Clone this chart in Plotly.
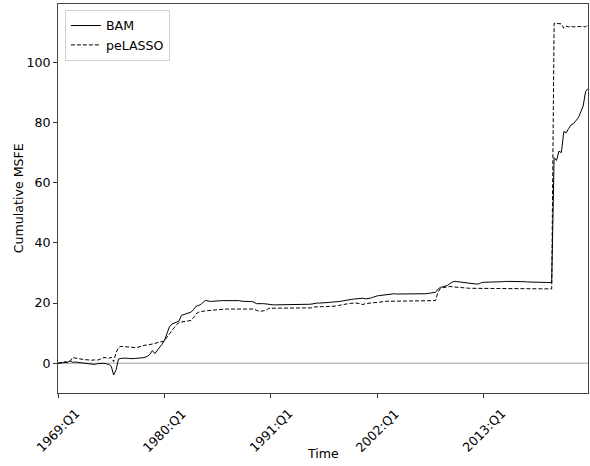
import plotly.graph_objects as go

# Quarters 1969:Q1 .. 2023:Q4
start_year = 1969
n_quarters = 220
quarters = [f"{start_year + i // 4}:Q{i % 4 + 1}" for i in range(n_quarters)]
x_idx = list(range(n_quarters))

tick_labels = ["1969:Q1", "1980:Q1", "1991:Q1", "2002:Q1", "2013:Q1"]
tick_pos = [quarters.index(t) for t in tick_labels]
y_ticks = [0, 20, 40, 60, 80, 100]

bam = [
    0.0, 0.1, 0.2, 0.4, 0.3, 0.8, 0.3, 0.4, 0.3, 0.2,
    0.1, 0.0, -0.1, -0.2, -0.3, -0.4, -0.2, -0.1, 0.0, 0.0,
    -0.2, -0.4, -1.0, -3.9, -2.2, 1.4, 1.6, 1.7, 1.7, 1.6,
    1.5, 1.5, 1.6, 1.6, 1.7, 1.8, 2.0, 2.3, 3.0, 4.2,
    3.2, 4.2, 5.0, 6.3, 7.6, 9.5, 12.0, 13.0, 13.3, 13.6,
    14.0, 15.9, 16.2, 16.4, 16.7, 17.0, 17.8, 18.9, 19.2, 19.5,
    20.3, 20.9, 20.7, 20.5, 20.6, 20.7, 20.8, 20.8, 20.8, 20.8,
    20.8, 20.9, 20.9, 20.8, 20.8, 20.8, 20.6, 20.5, 20.5, 20.5,
    20.5, 20.3, 19.8, 19.7, 19.8, 19.8, 19.7, 19.4, 19.4, 19.4,
    19.4, 19.4, 19.5, 19.5, 19.5, 19.5, 19.5, 19.5, 19.5, 19.6,
    19.6, 19.6, 19.6, 19.6, 19.6, 19.7, 19.9, 20.0, 20.0, 20.0,
    20.0, 20.1, 20.2, 20.3, 20.3, 20.4, 20.5, 20.6, 20.8, 20.9,
    21.1, 21.2, 21.3, 21.4, 21.5, 21.5, 21.6, 21.4, 21.4, 21.6,
    21.9, 22.2, 22.4, 22.5, 22.6, 22.8, 22.9, 23.0, 23.1, 23.1,
    23.0, 23.0, 22.9, 22.9, 22.9, 22.9, 23.0, 23.0, 23.0, 23.1,
    23.1, 23.1, 23.1, 23.2, 23.3, 23.5, 23.6, 24.6, 25.2, 25.4,
    25.6, 25.9, 26.5, 27.0, 27.2, 27.1, 27.0, 26.9, 26.7, 26.6,
    26.5, 26.4, 26.4, 26.3, 26.4, 26.8, 26.9, 26.9, 26.9, 27.0,
    27.0, 27.0, 27.1, 27.1, 27.1, 27.2, 27.2, 27.3, 27.3, 27.3,
    27.2, 27.2, 27.1, 27.1, 27.0, 27.0, 27.0, 27.0, 26.9, 26.9,
    26.9, 26.9, 26.9, 26.9, 26.8, 68.3, 67.4, 70.5, 70.0, 77.0,
    76.6, 78.0, 79.2, 79.6, 80.5, 81.6, 83.5, 85.5, 90.3, 91.3,
]

pelasso = [
    0.0, 0.2, 0.3, 0.5, 0.3, 0.6, 1.9, 1.7, 1.5, 1.4,
    1.3, 1.2, 1.1, 1.0, 1.0, 1.1, 1.0, 1.2, 1.6, 1.9,
    1.8, 1.6, 2.0, 0.5, 3.5, 5.2, 5.6, 5.5, 5.4, 5.3,
    5.3, 5.2, 5.2, 5.3, 5.5, 5.9, 6.0, 6.0, 6.2, 6.5,
    6.5, 6.8, 7.0, 7.2, 7.4, 8.6, 9.8, 10.8, 11.8, 12.8,
    13.5, 13.7, 13.8, 13.9, 14.0, 14.2, 15.2, 16.4, 16.9, 17.2,
    17.3, 17.4, 17.5, 17.6, 17.7, 17.8, 17.8, 17.9, 17.9, 18.0,
    18.0, 18.0, 18.1, 18.1, 18.1, 18.1, 18.1, 18.1, 18.1, 18.1,
    18.1, 18.0, 17.6, 17.3, 17.3, 17.4, 17.6, 18.2, 18.3, 18.3,
    18.3, 18.3, 18.3, 18.3, 18.3, 18.4, 18.4, 18.4, 18.4, 18.4,
    18.4, 18.4, 18.4, 18.4, 18.4, 18.4, 18.7, 18.8, 18.8, 18.8,
    18.8, 18.8, 18.8, 18.8, 18.8, 19.0, 19.2, 19.4, 19.6, 19.8,
    19.8, 19.9, 20.0, 20.0, 19.9, 19.6, 19.5, 19.8, 19.9, 20.0,
    20.1, 20.3, 20.4, 20.5, 20.6, 20.6, 20.6, 20.6, 20.6, 20.6,
    20.6, 20.6, 20.6, 20.6, 20.6, 20.6, 20.6, 20.7, 20.7, 20.7,
    20.7, 20.7, 20.7, 20.7, 20.8, 20.8, 20.8, 23.6, 24.8, 25.1,
    25.3, 25.5, 25.5, 25.4, 25.3, 25.2, 25.1, 25.0, 25.0, 24.9,
    24.9, 24.9, 24.9, 24.9, 24.9, 24.9, 24.9, 24.9, 24.9, 24.9,
    24.9, 24.9, 24.9, 24.9, 24.8, 24.8, 24.8, 24.8, 24.8, 24.8,
    24.8, 24.8, 24.7, 24.7, 24.7, 24.7, 24.7, 24.7, 24.7, 24.7,
    24.7, 24.7, 24.7, 24.7, 24.7, 113.0, 113.0, 112.8, 112.8, 111.3,
    112.0, 111.8, 112.0, 111.8, 111.9, 111.8, 111.9, 111.9, 111.8, 112.6,
]

FONT = "DejaVu Sans, Liberation Sans, sans-serif"
FS = 12.6

fig = go.Figure()
fig.add_trace(go.Scatter(x=x_idx, y=bam, mode="lines", name="BAM",
                         text=quarters, hovertemplate="%{text}: %{y}",
                         line=dict(color="black", width=1)))
fig.add_trace(go.Scatter(x=x_idx, y=pelasso, mode="lines", name="peLASSO",
                         text=quarters, hovertemplate="%{text}: %{y}",
                         line=dict(color="black", width=1, dash="4px,2px")))

fig.add_hline(y=0, line=dict(color="#a0a0a0", width=1), layer="below")

# x tick labels: rotated 45 degrees and centred on their ticks
tick_annotations = [
    dict(text=lab, xref="x", yref="paper", x=pos, y=-0.030,
         xanchor="center", yanchor="top", textangle=-45, showarrow=False,
         borderpad=0, font=dict(size=FS))
    for lab, pos in zip(tick_labels, tick_pos)
]

fig.update_layout(
    width=590, height=466,
    margin=dict(l=58, r=2, t=4, b=73, autoexpand=False),
    paper_bgcolor="white", plot_bgcolor="white",
    font=dict(family=FONT, size=FS, color="black"),
    showlegend=True,
    legend=dict(x=0.013, y=0.985, xanchor="left", yanchor="top",
                bgcolor="rgba(255,255,255,0.8)", bordercolor="#d0d0d0",
                borderwidth=1, font=dict(size=FS, family=FONT),
                tracegroupgap=0, itemwidth=30),
    annotations=tick_annotations + [
        dict(text="Time", xref="paper", yref="paper", x=0.5, y=-0.156,
             xanchor="center", yanchor="middle", showarrow=False,
             font=dict(size=FS)),
        dict(text="Cumulative MSFE", xref="paper", yref="paper", x=-0.0753,
             y=0.501, xanchor="center", yanchor="middle", textangle=-90,
             showarrow=False, font=dict(size=FS)),
    ],
)
fig.update_xaxes(
    range=[0, n_quarters - 1], automargin=False,
    tickmode="array", tickvals=tick_pos, showticklabels=False,
    ticks="outside", ticklen=4, tickcolor="#333",
    showline=True, linecolor="#444", linewidth=1, mirror=True,
    showgrid=False, zeroline=False,
)
fig.update_yaxes(
    range=[-9.9, 119.4], tickmode="array", tickvals=y_ticks, automargin=False,
    ticks="outside", ticklen=4, tickcolor="#333",
    showline=True, linecolor="#444", linewidth=1, mirror=True,
    showgrid=False, zeroline=False,
)

fig.write_html("out.html", config={"displayModeBar": False},
               post_script="document.body.style.margin='0';document.body.style.padding='0';")
